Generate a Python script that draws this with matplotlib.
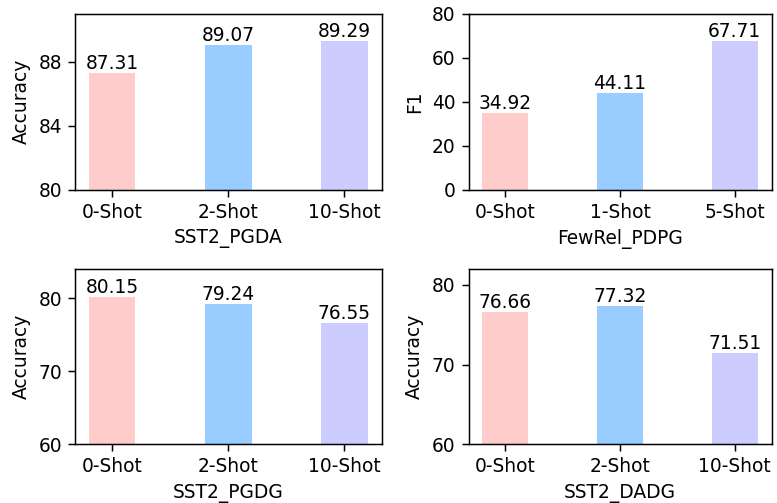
import matplotlib

matplotlib.use("Agg")
import matplotlib.pyplot as plt

# data
shots_a = ["0-Shot", "2-Shot", "10-Shot"]
shots_b = ["0-Shot", "1-Shot", "5-Shot"]

sst2_pgda = [87.31, 89.07, 89.29]
fewrel_pdpg = [34.92, 44.11, 67.71]
sst2_pgdg = [80.15, 79.24, 76.55]
sst2_dadg = [76.66, 77.32, 71.51]

colors = ["#FFCCCC", "#99CCFF", "#CCCCFF"]

s = 1.34  # scale factor vs. matplotlib defaults
plt.rcParams.update({
    "font.size": 10 * s,
    "axes.linewidth": 0.8 * s,
    "xtick.major.size": 3.5 * s,
    "ytick.major.size": 3.5 * s,
    "xtick.major.width": 0.8 * s,
    "ytick.major.width": 0.8 * s,
    "xtick.major.pad": 3.5 * s,
    "ytick.major.pad": 3.5 * s,
    "axes.labelpad": 4.0 * s,
})

fig = plt.figure(figsize=(7.77, 5.03), dpi=100)

panels = [
    # (rect, labels, values, xlabel, ylabel, ylim, yticks)
    ([0.0965, 0.6229, 0.3947, 0.3493], shots_a, sst2_pgda, "SST2_PGDA", "Accuracy", (80, 91), [80, 84, 88]),
    ([0.6030, 0.6229, 0.3900, 0.3493], shots_b, fewrel_pdpg, "FewRel_PDPG", "F1", (0, 80), [0, 20, 40, 60, 80]),
    ([0.0965, 0.1167, 0.3947, 0.3485], shots_a, sst2_pgdg, "SST2_PGDG", "Accuracy", (60, 84), [60, 70, 80]),
    ([0.6030, 0.1167, 0.3900, 0.3485], shots_a, sst2_dadg, "SST2_DADG", "Accuracy", (60, 82), [60, 70, 80]),
]

for rect, labels, vals, xl, yl, ylim, yt in panels:
    ax = fig.add_axes(rect)
    bars = ax.bar(labels, vals, width=0.4, color=colors)
    ax.bar_label(bars, labels=[f"{v:.2f}" for v in vals], padding=0)
    ax.set_ylim(*ylim)
    ax.set_yticks(yt)
    ax.set_xlabel(xl)
    ax.set_ylabel(yl)

fig.savefig("out.png", dpi=100)
